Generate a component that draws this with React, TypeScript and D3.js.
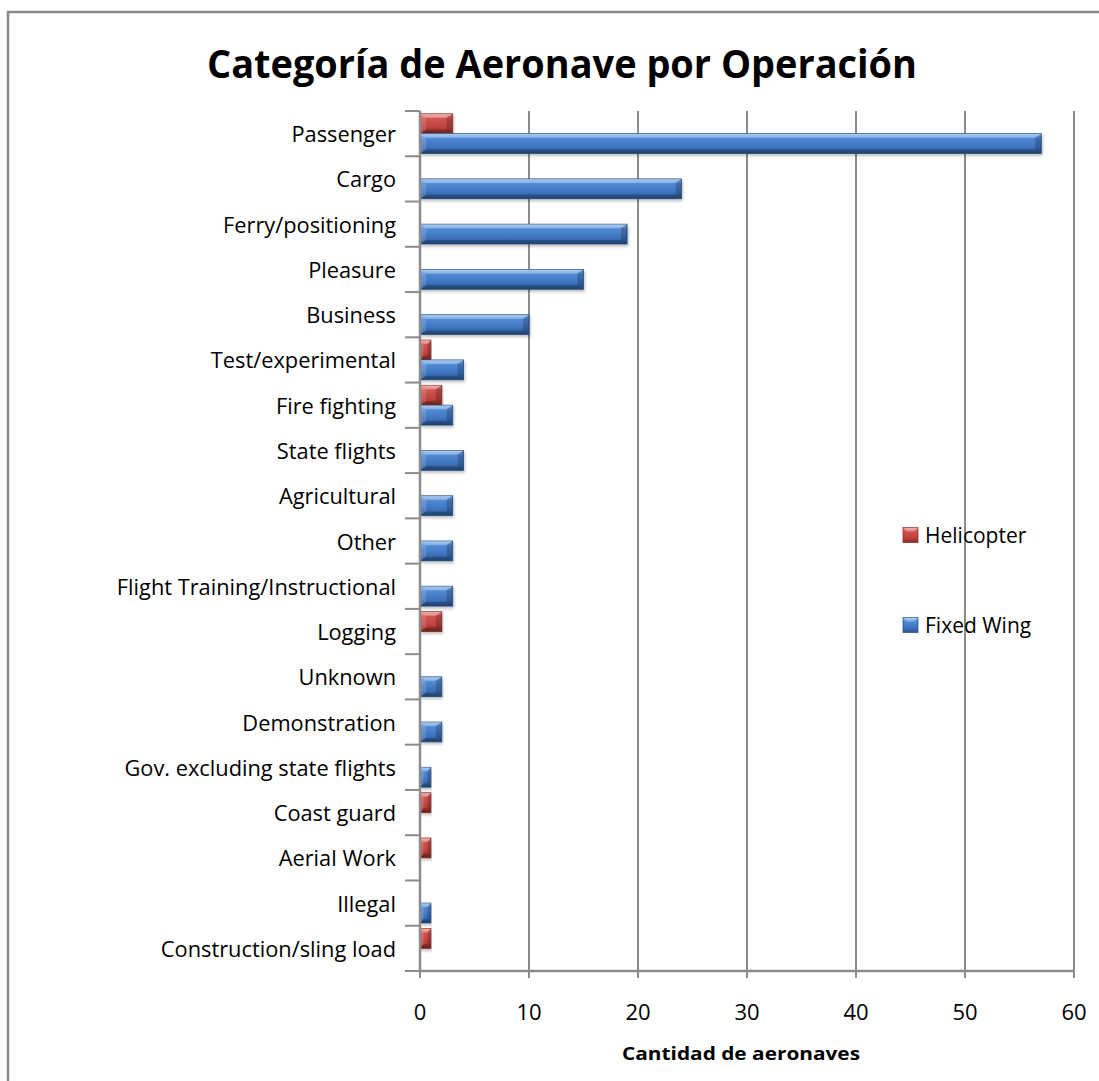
import React from "react";
import * as d3 from "d3";

const categories = [
  "Passenger",
  "Cargo",
  "Ferry/positioning",
  "Pleasure",
  "Business",
  "Test/experimental",
  "Fire fighting",
  "State flights",
  "Agricultural",
  "Other",
  "Flight Training/Instructional",
  "Logging",
  "Unknown",
  "Demonstration",
  "Gov. excluding state flights",
  "Coast guard",
  "Aerial Work",
  "Illegal",
  "Construction/sling load",
];
const helicopter = [3, 0, 0, 0, 0, 1, 2, 0, 0, 0, 0, 2, 0, 0, 0, 1, 1, 0, 1];
const fixedWing = [57, 24, 19, 15, 10, 4, 3, 4, 3, 3, 3, 0, 2, 2, 1, 0, 0, 1, 0];
const seriesNames = ["Helicopter", "Fixed Wing"];
const xTicks = [0, 10, 20, 30, 40, 50, 60];
const title = "Categoría de Aeronave por Operación";
const xTitle = "Cantidad de aeronaves";

const FONT = "'Open Sans', Lato, sans-serif";

export default function App() {
  const left = 420, right = 1074, top = 111, bottom = 971;
  const x = d3.scaleLinear().domain([0, 60]).range([left, right]);
  const y = d3.scaleBand<string>().domain(categories).range([top, bottom]).paddingInner(0).paddingOuter(0);
  const sub = d3.scaleBand<string>().domain(seriesNames).range([0, y.bandwidth()]).paddingInner(0).paddingOuter(0.14);
  const data = [helicopter, fixedWing];
  const colors = [
    { id: "gRed", stops: ["#ee928d", "#d0534f", "#bf433f", "#8e2b28"], stroke: "#8a2f2c" },
    { id: "gBlue", stops: ["#8bb8ee", "#5089d3", "#3f75c0", "#2b5590"], stroke: "#2d5789" },
  ];
  const bh = sub.bandwidth();

  const bar = (s: number, i: number) => {
    const v = data[s][i];
    if (!v) return null;
    const x0 = x(0);
    const x1 = x(v);
    const yy = (y(categories[i]) as number) + (sub(seriesNames[s]) as number);
    const w = x1 - x0;
    const bv = Math.min(6, w / 3);
    return (
      <g key={`${s}-${i}`} filter="url(#shadow)">
        <rect x={x0} y={yy} width={w} height={bh} fill={`url(#${colors[s].id})`} stroke={colors[s].stroke} strokeWidth={0.8} />
        <polygon
          points={`${x0},${yy} ${x1},${yy} ${x1 - bv},${yy + 4} ${x0 + bv},${yy + 4}`}
          fill="#ffffff" opacity={0.28} />
        <polygon
          points={`${x1},${yy} ${x1},${yy + bh} ${x1 - bv},${yy + bh - 4} ${x1 - bv},${yy + 4}`}
          fill="#000000" opacity={0.2} />
        <polygon
          points={`${x0},${yy} ${x0 + bv},${yy + 4} ${x0 + bv},${yy + bh - 4} ${x0},${yy + bh}`}
          fill="#ffffff" opacity={0.15} />
        <polygon
          points={`${x0},${yy + bh} ${x1},${yy + bh} ${x1 - bv},${yy + bh - 4} ${x0 + bv},${yy + bh - 4}`}
          fill="#000000" opacity={0.22} />
      </g>
    );
  };

  const boundaries = d3.range(categories.length + 1).map((k) => top + k * y.step());

  const legendItem = (s: number, cy: number) => (
    <g key={s}>
      <rect x={903} y={cy - 7.5} width={15} height={15} fill={`url(#${colors[s].id})`} stroke={colors[s].stroke} strokeWidth={0.8} />
      <polygon points={`903,${cy - 7.5} 918,${cy - 7.5} 914,${cy - 3.5} 907,${cy - 3.5}`} fill="#fff" opacity={0.3} />
      <text x={925} y={cy} dominantBaseline="central" fontSize={21} fontFamily={FONT} fill="#000">
        {seriesNames[s]}
      </text>
    </g>
  );

  return (
    <div style={{ position: "fixed", left: 0, top: 0 }}>
      <svg width={1099} height={1081} style={{ display: "block", background: "#fff" }}>
        <defs>
          {colors.map((c) => (
            <linearGradient key={c.id} id={c.id} x1="0" y1="0" x2="0" y2="1">
              <stop offset="0" stopColor={c.stops[0]} />
              <stop offset="0.25" stopColor={c.stops[1]} />
              <stop offset="0.65" stopColor={c.stops[2]} />
              <stop offset="1" stopColor={c.stops[3]} />
            </linearGradient>
          ))}
          <filter id="shadow" x="-5%" y="-20%" width="115%" height="160%">
            <feDropShadow dx="1" dy="2" stdDeviation="1.5" floodColor="#000" floodOpacity="0.25" />
          </filter>
        </defs>
        <rect x={8} y={12} width={1200} height={1200} fill="#fff" stroke="#8a8a8a" strokeWidth={2.5} />

        <text x={562} y={62} textAnchor="middle" dominantBaseline="central" fontSize={40} fontWeight="bold"
          fontFamily={FONT} fill="#000" textLength={710} lengthAdjust="spacingAndGlyphs">
          {title}
        </text>

        {/* gridlines */}
        {xTicks.slice(1).map((t) => (
          <line key={t} x1={x(t)} x2={x(t)} y1={top} y2={bottom} stroke="#8c8c8c" strokeWidth={2} />
        ))}

        {/* bars */}
        {categories.map((_, i) => [bar(0, i), bar(1, i)])}

        {/* axes */}
        <line x1={left} x2={left} y1={top} y2={bottom} stroke="#8c8c8c" strokeWidth={2.5} />
        <line x1={left} x2={right} y1={bottom} y2={bottom} stroke="#8c8c8c" strokeWidth={2.5} />
        {boundaries.map((b, k) => (
          <line key={k} x1={405} x2={left} y1={b} y2={b} stroke="#8c8c8c" strokeWidth={2} />
        ))}
        {xTicks.map((t) => (
          <line key={t} x1={x(t)} x2={x(t)} y1={bottom} y2={bottom + 7} stroke="#8c8c8c" strokeWidth={2} />
        ))}

        {/* category labels */}
        {categories.map((c) => (
          <text key={c} x={396} y={(y(c) as number) + y.bandwidth() / 2} textAnchor="end" dominantBaseline="central"
            fontSize={21.8} fontFamily={FONT} fill="#000">
            {c}
          </text>
        ))}

        {/* x tick labels */}
        {xTicks.map((t) => (
          <text key={t} x={x(t)} y={1011} textAnchor="middle" dominantBaseline="central" fontSize={22}
            fontFamily={FONT} fill="#000">
            {t}
          </text>
        ))}

        <text x={741} y={1053} textAnchor="middle" dominantBaseline="central" fontSize={17} fontWeight="bold"
          fontFamily={FONT} fill="#000" textLength={238} lengthAdjust="spacingAndGlyphs">
          {xTitle}
        </text>

        {legendItem(0, 535)}
        {legendItem(1, 625)}
      </svg>
    </div>
  );
}
